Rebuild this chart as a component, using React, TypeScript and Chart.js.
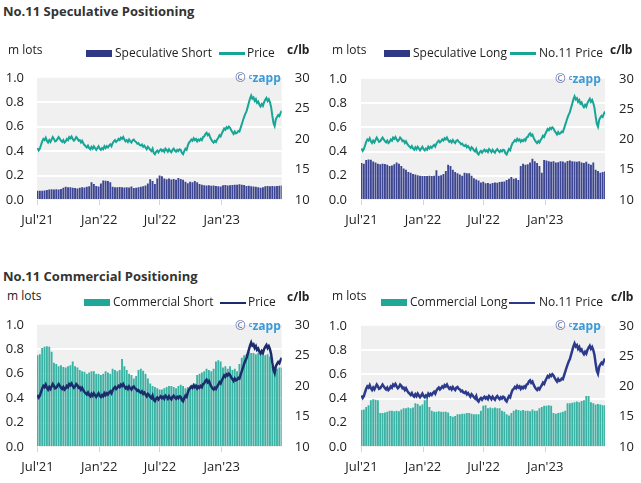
import React, { useEffect, useRef } from "react";
import { Chart, registerables } from "chart.js";
Chart.register(...registerables);

// ---- data ----
const tickDays = [0, 184, 365, 549];
const tickLabels = ["Jul'21", "Jan'22", "Jul'22", "Jan'23"];
const barStepDays = 7;
const priceStepDays = 3.5;
const lotTicks = [0, 0.2, 0.4, 0.6, 0.8, 1.0];
const priceTicks = [10, 15, 20, 25, 30];

const specShort = [
  0.075, 0.075, 0.076, 0.078, 0.082, 0.085, 0.088, 0.086, 0.088, 0.085, 0.09, 0.1,
  0.108, 0.105, 0.104, 0.1, 0.098, 0.095, 0.1, 0.105, 0.102, 0.108, 0.112, 0.145,
  0.13, 0.115, 0.11, 0.135, 0.16, 0.158, 0.155, 0.145, 0.108, 0.105, 0.105, 0.107,
  0.105, 0.103, 0.104, 0.102, 0.11, 0.098, 0.1, 0.104, 0.108, 0.112, 0.118, 0.135,
  0.17, 0.155, 0.13, 0.175, 0.2, 0.195, 0.175, 0.17, 0.175, 0.168, 0.172, 0.165,
  0.18, 0.172, 0.165, 0.15, 0.138, 0.15, 0.145, 0.155, 0.145, 0.13, 0.125, 0.12,
  0.118, 0.12, 0.116, 0.118, 0.115, 0.112, 0.11, 0.12, 0.122, 0.118, 0.12, 0.122,
  0.125, 0.125, 0.128, 0.125, 0.122, 0.115, 0.117, 0.112, 0.11, 0.108, 0.105, 0.1,
  0.105, 0.112, 0.115, 0.112, 0.115, 0.113, 0.115, 0.116, 0.118,
];

const specLong = [
  0.305, 0.3, 0.33, 0.335, 0.332, 0.318, 0.31, 0.3, 0.295, 0.3, 0.298, 0.29,
  0.28, 0.285, 0.295, 0.31, 0.3, 0.28, 0.26, 0.25, 0.23, 0.225, 0.215, 0.21,
  0.205, 0.2, 0.198, 0.197, 0.198, 0.2, 0.198, 0.2, 0.245, 0.2, 0.205, 0.215,
  0.24, 0.29, 0.28, 0.25, 0.23, 0.22, 0.21, 0.2, 0.225, 0.22, 0.22, 0.2,
  0.18, 0.17, 0.16, 0.145, 0.15, 0.138, 0.14, 0.135, 0.14, 0.145, 0.142, 0.148,
  0.15, 0.152, 0.165, 0.175, 0.19, 0.175, 0.18, 0.165, 0.28, 0.3, 0.29, 0.295,
  0.31, 0.34, 0.32, 0.305, 0.28, 0.225, 0.33, 0.325, 0.32, 0.315, 0.32, 0.31,
  0.312, 0.32, 0.318, 0.31, 0.322, 0.325, 0.32, 0.318, 0.315, 0.32, 0.31, 0.305,
  0.315, 0.3, 0.29, 0.31, 0.25, 0.24, 0.225, 0.23, 0.235,
];

const commShort = [
  0.75, 0.76, 0.81, 0.82, 0.825, 0.82, 0.78, 0.69, 0.68, 0.66, 0.67, 0.655,
  0.65, 0.66, 0.67, 0.7, 0.66, 0.65, 0.63, 0.62, 0.615, 0.6, 0.61, 0.62,
  0.62, 0.6, 0.6, 0.59, 0.6, 0.62, 0.61, 0.6, 0.64, 0.63, 0.62, 0.63,
  0.72, 0.66, 0.63, 0.6, 0.59, 0.56, 0.58, 0.63, 0.64, 0.625, 0.6, 0.56,
  0.52, 0.5, 0.49, 0.48, 0.47, 0.47, 0.48, 0.49, 0.5, 0.5, 0.49, 0.48,
  0.5, 0.51, 0.5, 0.48, 0.49, 0.5, 0.48, 0.52, 0.59, 0.6, 0.61, 0.62,
  0.64, 0.63, 0.62, 0.64, 0.7, 0.71, 0.7, 0.65, 0.66, 0.64, 0.66, 0.63,
  0.64, 0.62, 0.68, 0.73, 0.75, 0.76, 0.78, 0.77, 0.77, 0.76, 0.77, 0.78,
  0.76, 0.75, 0.76, 0.74, 0.66, 0.65, 0.64, 0.65, 0.65,
];

const commLong = [
  0.305, 0.31, 0.33, 0.345, 0.385, 0.395, 0.39, 0.385, 0.28, 0.28, 0.285, 0.29,
  0.3, 0.3, 0.295, 0.3, 0.295, 0.31, 0.32, 0.32, 0.325, 0.32, 0.325, 0.36,
  0.355, 0.34, 0.35, 0.385, 0.405, 0.33, 0.3, 0.29, 0.29, 0.295, 0.29, 0.29,
  0.29, 0.285, 0.255, 0.25, 0.255, 0.27, 0.27, 0.275, 0.275, 0.28, 0.28, 0.275,
  0.27, 0.27, 0.27, 0.3, 0.34, 0.345, 0.32, 0.325, 0.32, 0.325, 0.32, 0.32,
  0.3, 0.29, 0.27, 0.26, 0.28, 0.3, 0.31, 0.305, 0.3, 0.305, 0.3, 0.3,
  0.295, 0.31, 0.3, 0.3, 0.32, 0.33, 0.34, 0.34, 0.345, 0.34, 0.28, 0.275,
  0.28, 0.285, 0.29, 0.3, 0.36, 0.36, 0.365, 0.37, 0.375, 0.37, 0.38, 0.385,
  0.42, 0.42, 0.37, 0.36, 0.35, 0.355, 0.35, 0.345, 0.345,
];

const price = [
  18.5, 18.1, 18.4, 19.0, 19.6, 20.0, 19.8, 20.2, 19.7, 19.4, 19.8, 19.5,
  19.9, 20.3, 20.0, 19.6, 19.7, 20.0, 20.3, 20.0, 19.7, 19.5, 19.8, 19.4,
  19.6, 20.0, 19.8, 20.3, 20.1, 20.4, 20.0, 19.7, 19.9, 20.3, 20.1, 19.7,
  19.8, 19.4, 19.7, 19.3, 19.0, 18.8, 18.6, 18.9, 18.5, 18.3, 18.7, 18.4,
  18.8, 18.5, 18.2, 18.5, 18.8, 18.4, 18.2, 18.5, 18.3, 18.8, 18.5, 18.8,
  18.6, 18.9, 19.1, 18.8, 19.3, 19.6, 19.8, 19.5, 19.7, 20.0, 19.8, 20.2,
  20.0, 20.3, 19.9, 19.6, 19.8, 19.5, 19.9, 19.6, 19.4, 19.8, 19.9, 19.6,
  19.5, 19.2, 19.3, 19.0, 18.9, 19.1, 18.7, 18.9, 18.6, 18.3, 18.7, 18.5,
  18.2, 18.0, 18.4, 17.7, 17.5, 17.9, 18.1, 17.8, 18.1, 18.3, 18.0, 18.2,
  17.9, 18.4, 18.2, 17.9, 18.3, 18.0, 17.8, 18.2, 18.4, 18.1, 17.9, 18.2,
  18.0, 18.3, 18.2, 17.7, 17.5, 18.0, 18.4, 18.2, 18.9, 19.4, 19.6, 19.9,
  19.7, 20.1, 19.8, 20.0, 19.6, 19.9, 19.7, 20.0, 19.8, 20.3, 20.4, 20.8,
  21.0, 20.6, 20.8, 20.3, 19.9, 19.6, 19.4, 19.7, 19.5, 19.9, 20.2, 20.6,
  20.4, 20.9, 21.3, 21.7, 21.5, 21.9, 21.7, 22.0, 21.8, 21.4, 21.1, 20.8,
  21.2, 20.9, 21.0, 21.3, 21.2, 21.8, 22.4, 23.0, 23.6, 24.1, 24.5, 25.2,
  25.9, 26.6, 27.1, 26.6, 26.8, 26.2, 26.5, 25.9, 26.1, 25.6, 25.3, 25.7,
  25.4, 26.0, 26.4, 26.7, 26.2, 26.5, 26.0, 25.2, 23.8, 22.6, 22.1, 23.2,
  23.6, 23.9, 23.7, 24.2, 24.6, 25.0,
];

const FONT = "'Open Sans', sans-serif";
const TEXT = "#222";
const CANVAS_H = 173;

const bgPlugin = {
  id: "plotBg",
  beforeDraw(chart: any) {
    const { ctx, chartArea } = chart;
    ctx.save();
    ctx.fillStyle = "#f0f0f0";
    ctx.fillRect(chartArea.left, chartArea.top, chartArea.right - chartArea.left, chartArea.bottom - chartArea.top);
    ctx.restore();
  },
};

type PanelProps = {
  left: number;
  top: number;
  width: number;
  bars: number[];
  barColor: string;
  lineColor: string;
  lineWidth: number;
  leftAxisW: number;
  rightAxisW: number;
  leftPad: number;
  rightPad: number;
};

function Panel(p: PanelProps) {
  const ref = useRef<HTMLCanvasElement>(null);
  useEffect(() => {
    const tickFont = { family: FONT, size: 13 };
    const chart = new Chart(ref.current as HTMLCanvasElement, {
      type: "bar",
      data: {
        datasets: [
          {
            type: "line",
            data: price.map((v, i) => ({ x: i * priceStepDays, y: v })),
            yAxisID: "y1",
            borderColor: p.lineColor,
            borderWidth: p.lineWidth,
            pointRadius: 0,
            tension: 0,
            order: 0,
          } as any,
          {
            type: "bar",
            data: p.bars.map((v, i) => ({ x: i * barStepDays, y: v })),
            yAxisID: "y",
            backgroundColor: p.barColor,
            categoryPercentage: 0.85,
            barPercentage: 0.95,
            order: 1,
          } as any,
        ],
      },
      options: {
        animation: false,
        responsive: false,
        maintainAspectRatio: false,
        layout: { padding: { top: 10, bottom: 0, left: 0, right: 0 } },
        plugins: { legend: { display: false }, tooltip: { enabled: false } },
        scales: {
          x: {
            type: "linear",
            min: -1.5,
            max: 728,
            offset: false,
            afterBuildTicks: (s: any) => {
              s.ticks = tickDays.map((v) => ({ value: v }));
            },
            afterFit: (s: any) => {
              s.height = 30;
            },
            ticks: {
              autoSkip: false,
              maxRotation: 0,
              padding: 7,
              font: tickFont,
              color: TEXT,
              callback: (v: any) => tickLabels[tickDays.indexOf(Number(v))],
            },
            grid: { offset: false, drawOnChartArea: false, drawTicks: true, tickLength: 5, color: "#d4d4d4" },
            border: { display: false },
          },
          y: {
            position: "left",
            min: 0,
            max: 1,
            afterBuildTicks: (s: any) => {
              s.ticks = lotTicks.map((v) => ({ value: v }));
            },
            afterFit: (s: any) => {
              s.width = p.leftAxisW;
            },
            ticks: {
              padding: p.leftPad,
              font: tickFont,
              color: TEXT,
              callback: (v: any) => Number(v).toFixed(1),
            },
            grid: {
              drawTicks: false,
              lineWidth: 2,
              color: (c: any) =>
                c.tick && (c.tick.value <= 0.001 || c.tick.value >= 0.999) ? "rgba(0,0,0,0)" : "#ffffff",
            },
            border: { display: false },
          },
          y1: {
            position: "right",
            min: 10,
            max: 30,
            afterBuildTicks: (s: any) => {
              s.ticks = priceTicks.map((v) => ({ value: v }));
            },
            afterFit: (s: any) => {
              s.width = p.rightAxisW;
            },
            ticks: { padding: p.rightPad, font: tickFont, color: TEXT },
            grid: { drawOnChartArea: false, drawTicks: false },
            border: { display: false },
          },
        },
      } as any,
      plugins: [bgPlugin],
    });
    return () => chart.destroy();
  }, []);
  return (
    <canvas
      ref={ref}
      width={p.width}
      height={CANVAS_H}
      style={{ position: "absolute", left: p.left, top: p.top, width: p.width, height: CANVAS_H }}
    />
  );
}

const abs = (left: number, top: number, extra: any = {}) => ({
  position: "absolute" as const,
  left,
  top,
  whiteSpace: "nowrap" as const,
  fontFamily: FONT,
  ...extra,
});

type LegendProps = {
  top: number;
  boxX: number;
  barLabel: string;
  barLabelX: number;
  barColor: string;
  lineX: number;
  lineColor: string;
  lineLabel: string;
  lineLabelX: number;
};

function Legend(l: LegendProps) {
  return (
    <>
      <div style={abs(l.boxX, l.top + 5, { width: 26, height: 7, background: l.barColor })} />
      <div style={abs(l.barLabelX, l.top, { fontSize: 12, lineHeight: "16px", color: TEXT })}>{l.barLabel}</div>
      <div style={abs(l.lineX, l.top + 7.5, { width: 26, height: 2.5, background: l.lineColor })} />
      <div style={abs(l.lineLabelX, l.top, { fontSize: 12, lineHeight: "16px", color: TEXT })}>{l.lineLabel}</div>
    </>
  );
}

function Watermark({ left, top }: { left: number; top: number }) {
  return (
    <div style={abs(left, top, { fontSize: 12, lineHeight: "14px", fontWeight: 700 })}>
      <span style={{ color: "#6a74ad", fontWeight: 400, fontSize: 13 }}>©</span>
      <span style={{ color: "#3b9ad8", fontSize: 7, verticalAlign: 3, marginLeft: 3 }}>c</span>
      <span style={{ color: "#3b9ad8" }}>zapp</span>
    </div>
  );
}

export default function App() {
  const navy = "#3c4591";
  const navyBox = "#2e3886";
  const teal = "#17a596";
  const tealBar = "#3ab3a5";
  const tealBox = "#1fa897";
  const navyLineL = "#1b2c6c";
  const navyLineR = "#2c3a8c";
  return (
    <div style={{ position: "absolute", left: 0, top: 0, width: 641, height: 483, background: "#fff", overflow: "hidden" }}>
      <div style={abs(3, 3, { fontSize: 13, lineHeight: "16px", fontWeight: 700, color: "#333" })}>
        No.11 Speculative Positioning
      </div>
      <div style={abs(3, 268, { fontSize: 13, lineHeight: "16px", fontWeight: 700, color: "#333" })}>
        No.11 Commercial Positioning
      </div>

      <Panel left={0} top={57} width={320} bars={specShort} barColor={navy} lineColor={teal} lineWidth={2}
        leftAxisW={37} rightAxisW={38.3} leftPad={13} rightPad={13} />
      <Panel left={320} top={57} width={321} bars={specLong} barColor={navy} lineColor={teal} lineWidth={2}
        leftAxisW={41} rightAxisW={36} leftPad={14} rightPad={14} />
      <Panel left={0} top={304} width={320} bars={commShort} barColor={tealBar} lineColor={navyLineL} lineWidth={2.5}
        leftAxisW={37} rightAxisW={38.3} leftPad={13} rightPad={13} />
      <Panel left={320} top={304} width={321} bars={commLong} barColor={tealBar} lineColor={navyLineR} lineWidth={2.5}
        leftAxisW={41} rightAxisW={36} leftPad={14} rightPad={14} />

      {/* top-left labels */}
      <div style={abs(8, 42, { fontSize: 12, lineHeight: "16px", color: TEXT })}>m lots</div>
      <div style={abs(287, 42, { fontSize: 12, lineHeight: "16px", fontWeight: 700, color: TEXT })}>c/lb</div>
      <Legend top={44.5} boxX={86} barLabel="Speculative Short" barLabelX={115} barColor={navyBox}
        lineX={219} lineColor={teal} lineLabel="Price" lineLabelX={247} />
      <Watermark left={235} top={70} />

      {/* top-right labels */}
      <div style={abs(332, 42, { fontSize: 12, lineHeight: "16px", color: TEXT })}>m lots</div>
      <div style={abs(610, 42, { fontSize: 12, lineHeight: "16px", fontWeight: 700, color: TEXT })}>c/lb</div>
      <Legend top={44.5} boxX={384} barLabel="Speculative Long" barLabelX={413} barColor={navyBox}
        lineX={510} lineColor={teal} lineLabel="No.11 Price" lineLabelX={539} />
      <Watermark left={555} top={71} />

      {/* bottom-left labels */}
      <div style={abs(7, 288, { fontSize: 12, lineHeight: "16px", color: TEXT })}>m lots</div>
      <div style={abs(287, 289, { fontSize: 12, lineHeight: "16px", fontWeight: 700, color: TEXT })}>c/lb</div>
      <Legend top={294} boxX={84} barLabel="Commercial Short" barLabelX={113} barColor={tealBox}
        lineX={220} lineColor={navyLineL} lineLabel="Price" lineLabelX={248} />
      <Watermark left={235} top={318} />

      {/* bottom-right labels */}
      <div style={abs(332, 288, { fontSize: 12, lineHeight: "16px", color: TEXT })}>m lots</div>
      <div style={abs(611, 289, { fontSize: 12, lineHeight: "16px", fontWeight: 700, color: TEXT })}>c/lb</div>
      <Legend top={294} boxX={381} barLabel="Commercial Long" barLabelX={410} barColor={tealBox}
        lineX={509} lineColor={navyLineR} lineLabel="No.11 Price" lineLabelX={539} />
      <Watermark left={555} top={318} />
    </div>
  );
}
